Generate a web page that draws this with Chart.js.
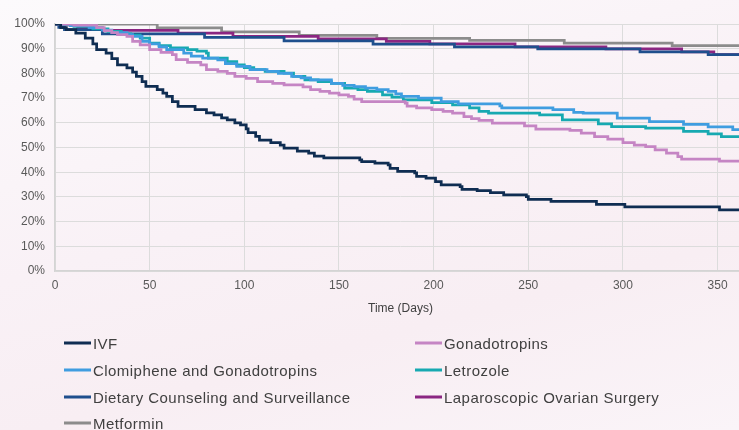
<!DOCTYPE html>
<html>
<head>
<meta charset="utf-8">
<title>Time to event by treatment</title>
<script src="https://cdn.jsdelivr.net/npm/chart.js@4.4.1/dist/chart.umd.min.js"></script>
<style>
  html, body { margin: 0; padding: 0; width: 739px; height: 430px; overflow: hidden; }
  body {
    position: relative;
    font-family: "Liberation Sans", Arial, sans-serif;
    background: linear-gradient(165deg, #fcfafc 0%, #f9f1f6 45%, #f8eef3 70%, #faf4f8 100%);
  }
  #wrap { position: absolute; left: 0; top: 0; width: 746px; height: 320px; }
  #legend { position: absolute; left: 0; top: 0; width: 739px; height: 430px; }
  .item { position: absolute; display: flex; align-items: center; font-size: 15px; letter-spacing: 0.45px; color: #404040; white-space: nowrap; transform: translateY(-50%); }
  .swatch { width: 27px; height: 3px; margin-right: 2px; }
</style>
</head>
<body>
<div id="wrap"><canvas id="chart" width="746" height="320"></canvas></div>
<div id="legend"></div>
<script>
// series names, in legend order
const seriesNames = ['IVF', 'Gonadotropins', 'Clomiphene and Gonadotropins', 'Letrozole',
  'Dietary Counseling and Surveillance', 'Laparoscopic Ovarian Surgery', 'Metformin'];
const seriesColors = ['#0f2d52', '#c585c4', '#3f9de0', '#17a9b1', '#1f4f8d', '#8b2682', '#8c8c8c'];

// each point is (day of the drop, % remaining after it)
const ivfDays = [0, 3, 6, 11, 16, 20, 22, 27, 30, 33, 38, 41, 43, 46, 48, 54, 57, 59, 62, 65, 74, 80, 84, 88, 91, 95, 98, 101, 102, 106, 108, 114, 119, 121, 128, 134, 137, 142, 161, 162, 169, 176, 177, 181, 190, 191, 196, 201, 204, 214, 215, 223, 230, 237, 249, 250, 262, 286, 301, 351, 365];
const ivfPct  = [100, 98.5, 97.7, 96.3, 94.3, 92, 89.6, 88.2, 86, 83.5, 82.2, 80.5, 78.8, 76.7, 74.7, 73.4, 72, 70.7, 68.6, 66.6, 65.3, 64, 63.2, 62, 61.2, 60, 59.2, 57.5, 56, 54.5, 53, 52, 51, 49.7, 48.5, 47.7, 46.5, 45.8, 45, 44.3, 43.7, 43, 41.5, 40.3, 39.7, 38.3, 37.6, 36.2, 34.9, 34.2, 33, 32.5, 31.7, 30.8, 30.1, 29, 28.2, 27, 26, 24.7, 24.7];

const gonaDays = [0, 10, 22, 26, 30, 33, 38, 41, 45, 50, 56, 62, 64, 70, 77, 80, 86, 91, 95, 101, 107, 115, 121, 131, 135, 140, 145, 150, 155, 158, 162, 185, 186, 191, 199, 205, 210, 216, 220, 224, 231, 248, 254, 272, 278, 285, 292, 300, 306, 312, 317, 323, 329, 331, 351, 365];
const gonaPct  = [100, 99.5, 98.5, 97.3, 96.5, 95.7, 95, 93, 91.5, 89.6, 88.5, 87.6, 85.6, 84.5, 83.5, 81.5, 80.8, 80, 78.8, 78, 76.7, 76, 75.4, 74.5, 73.4, 72.7, 72, 71.3, 70.7, 69.6, 68.6, 68, 66.8, 66, 65.3, 64.6, 63.9, 62.5, 61.7, 61, 59.9, 58.8, 57.4, 56.9, 55.8, 54.4, 53.4, 52, 51, 50.4, 49, 47.7, 46.3, 45.3, 44.5, 44.5];

const clomDays = [0, 8, 18, 25, 30, 38, 41, 46, 50, 55, 59, 68, 72, 78, 86, 90, 96, 103, 112, 118, 125, 130, 135, 146, 152, 158, 164, 170, 176, 180, 183, 192, 204, 213, 235, 236, 263, 274, 279, 297, 314, 332, 345, 358, 365];
const clomPct  = [100, 99.3, 98.5, 97.5, 96.5, 95.7, 95, 93, 92, 90.7, 89.6, 88.2, 87, 86.2, 85.5, 84, 82.8, 81.5, 80.8, 80, 78.8, 78.2, 77.4, 76, 75.2, 74.6, 74, 73.4, 72.7, 71.7, 70.7, 70, 68.6, 67.7, 66.9, 66, 65.3, 64.2, 63.9, 61.9, 60.5, 59.4, 58.3, 57.2, 57.2];

const letrDays = [0, 10, 20, 28, 35, 40, 45, 50, 55, 61, 70, 75, 80, 81, 91, 96, 100, 105, 111, 121, 126, 132, 139, 146, 153, 160, 165, 173, 178, 184, 199, 210, 219, 224, 229, 256, 268, 287, 294, 312, 332, 345, 352, 365];
const letrPct  = [100, 99, 98, 97, 96, 95.5, 94.3, 92.3, 91.2, 90.3, 89.6, 89, 88.2, 86.2, 84.8, 83.5, 82.3, 81.5, 80.8, 80.1, 78.8, 77.4, 76.7, 76, 74, 73.4, 72.7, 71.3, 70.4, 69.3, 68.2, 67.3, 66, 64.6, 63.9, 63.2, 61.2, 59.6, 58.5, 57.8, 56.5, 55.5, 54.4, 54.4];

const dietDays = [0, 2, 5, 25, 79, 121, 168, 211, 255, 309, 345, 365];
const dietPct  = [100, 98.6, 97.7, 96, 94.6, 93.2, 91.9, 90.7, 89.9, 88.7, 87.6, 87.6];

const lapaDays = [0, 8, 12, 25, 65, 94, 139, 175, 198, 243, 291, 331, 348, 365];
const lapaPct  = [100, 99.3, 98.4, 97.4, 96.3, 95, 94, 93, 92, 90.7, 89.9, 88.7, 87.6, 87.6];

const metfDays = [0, 54, 88, 129, 170, 219, 269, 326, 365];
const metfPct  = [100, 98.4, 96.8, 95.4, 94.2, 93.4, 92.3, 91.2, 91.2];

const xTicks = [0, 50, 100, 150, 200, 250, 300, 350];
const yTicks = [0, 10, 20, 30, 40, 50, 60, 70, 80, 90, 100];

const seriesDays = [ivfDays, gonaDays, clomDays, letrDays, dietDays, lapaDays, metfDays];
const seriesPct = [ivfPct, gonaPct, clomPct, letrPct, dietPct, lapaPct, metfPct];

const datasets = seriesNames.map((name, i) => ({
  label: name,
  data: seriesDays[i].map((d, j) => ({ x: d, y: seriesPct[i][j] })),
  borderColor: seriesColors[i],
  backgroundColor: seriesColors[i],
  borderWidth: 2.75,
  pointRadius: 0,
  stepped: 'before',
  fill: false
}));

const chart = new Chart(document.getElementById('chart'), {
  type: 'line',
  data: { datasets },
  options: {
    responsive: false,
    animation: false,
    layout: { padding: { top: 24, left: 0, right: 0, bottom: 0 } },
    plugins: { legend: { display: false }, tooltip: { enabled: false } },
    scales: {
      x: {
        type: 'linear',
        min: 0,
        max: 365,
        afterBuildTicks: s => { s.ticks = xTicks.map(v => ({ value: v })); },
        afterFit: s => { s.height = 49; },
        grid: { color: '#dcdcdc', lineWidth: 1, drawTicks: false },
        border: { color: '#d4d4d4', width: 1.5 },
        ticks: { color: '#595959', font: { size: 12, family: 'Liberation Sans' }, padding: 7, maxRotation: 0 },
        title: { display: true, text: 'Time (Days)', color: '#404040', font: { size: 12, family: 'Liberation Sans' }, padding: { top: 3 } }
      },
      y: {
        min: 0,
        max: 100,
        afterBuildTicks: s => { s.ticks = yTicks.map(v => ({ value: v })); },
        afterFit: s => { s.width = 55; },
        grid: { color: '#dcdcdc', lineWidth: 1, drawTicks: false },
        border: { color: '#d4d4d4', width: 1.5 },
        ticks: { color: '#595959', font: { size: 12, family: 'Liberation Sans' }, padding: 10, callback: v => v + '%' }
      }
    }
  }
});

// two-column legend under the plot
const legend = document.getElementById('legend');
chart.data.datasets.forEach((ds, i) => {
  const item = document.createElement('div');
  item.className = 'item';
  item.style.left = (i % 2 === 0 ? 64 : 415) + 'px';
  item.style.top = (343 + Math.floor(i / 2) * 26.8) + 'px';
  const sw = document.createElement('span');
  sw.className = 'swatch';
  sw.style.background = ds.borderColor;
  const tx = document.createElement('span');
  tx.textContent = ds.label;
  item.appendChild(sw);
  item.appendChild(tx);
  legend.appendChild(item);
});
</script>
</body>
</html>
